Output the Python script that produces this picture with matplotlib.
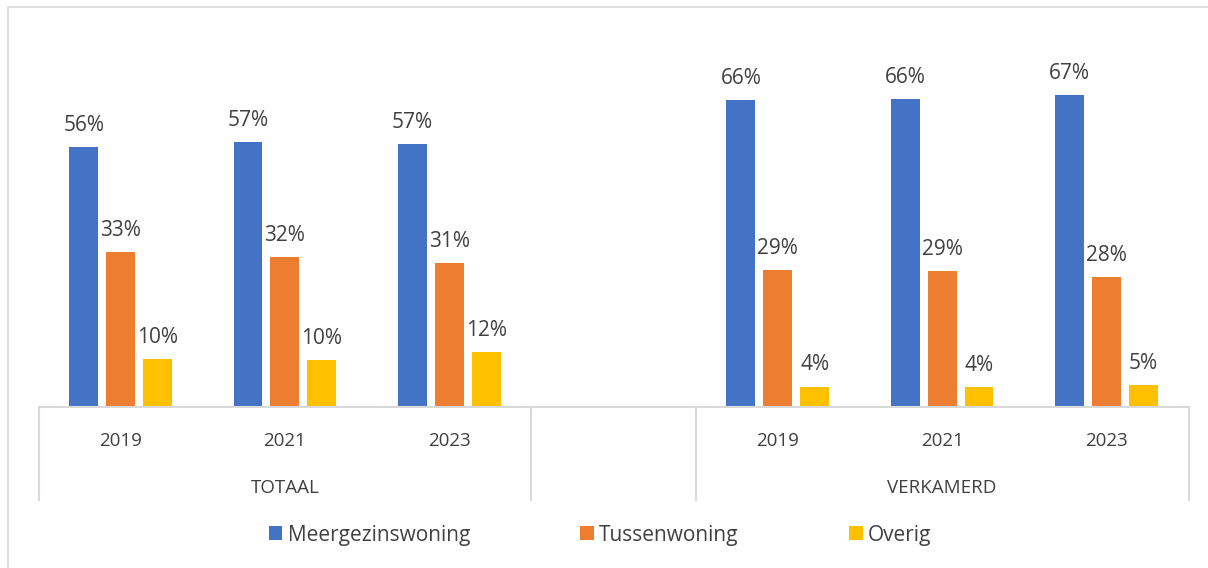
import numpy as np
import matplotlib.pyplot as plt
from matplotlib.patches import Rectangle
import matplotlib.transforms as mtransforms

plt.rcParams['font.family'] = ['Open Sans', 'DejaVu Sans']

# data
years = ['2019', '2021', '2023', '', '2019', '2021', '2023']
groups = ['TOTAAL', 'VERKAMERD']
series = ['Meergezinswoning', 'Tussenwoning', 'Overig']
meergezins = [55.9, 57.0, 56.6, np.nan, 66.0, 66.2, 67.1]
tussen = [33.3, 32.3, 31.0, np.nan, 29.4, 29.2, 28.0]
overig = [10.3, 10.1, 11.8, np.nan, 4.4, 4.3, 4.7]
colors = ['#4472C4', '#ED7D31', '#FFC000']

txt = '#404040'
grid = '#d9d9d9'

fig = plt.figure(figsize=(12.08, 5.68), dpi=100)
ax = fig.add_axes([38.5/1208, 1-407/568, 1150/1208, 372/568])

x = np.arange(len(years))
w = 0.176
offs = [-0.225, 0, 0.225]
for vals, off, c, name in zip([meergezins, tussen, overig], offs, colors, series):
    bars = ax.bar(x + off, vals, width=w, color=c, label=name, zorder=2)
    for xi, v in zip(x, vals):
        if np.isnan(v):
            continue
        ax.annotate(f'{v:.0f}%', (xi + off, v), xytext=(0, 8), textcoords='offset points',
                    ha='center', va='bottom', fontsize=15, color=txt)

ax.set_xlim(-0.5, len(years) - 0.5)
ax.set_ylim(0, 80)
ax.set_yticks([])
for s in ['top', 'right', 'left']:
    ax.spines[s].set_visible(False)
ax.spines['bottom'].set_color(grid)
ax.spines['bottom'].set_linewidth(1.5)
ax.set_xticks(x)
ax.set_xticklabels(years, fontsize=13.5, color=txt)
ax.tick_params(axis='x', length=0, pad=18)

# multi-level category axis
trans = mtransforms.blended_transform_factory(ax.transData, ax.transAxes)
for xb in [-0.5, 2.5, 3.5, 6.5]:
    ax.plot([xb, xb], [0, -0.25], transform=trans, color=grid, lw=1.5, clip_on=False)
ax.text(1, -0.218, groups[0], transform=trans, ha='center', va='center', fontsize=13.5, color=txt)
ax.text(5, -0.218, groups[1], transform=trans, ha='center', va='center', fontsize=13.5, color=txt)

fig.legend(loc='center', bbox_to_anchor=(600/1208, 33/568), ncol=3, frameon=False,
           fontsize=15, labelcolor=txt, handlelength=0.65, handleheight=0.65,
           handletextpad=0.25, columnspacing=5.3)

# chart border
fig.add_artist(Rectangle((8/1208, -0.1), 1.2, 1 - 7.5/568 + 0.1, transform=fig.transFigure,
                         fill=False, edgecolor=grid, lw=1.2))

plt.savefig('out.png', dpi=100)
